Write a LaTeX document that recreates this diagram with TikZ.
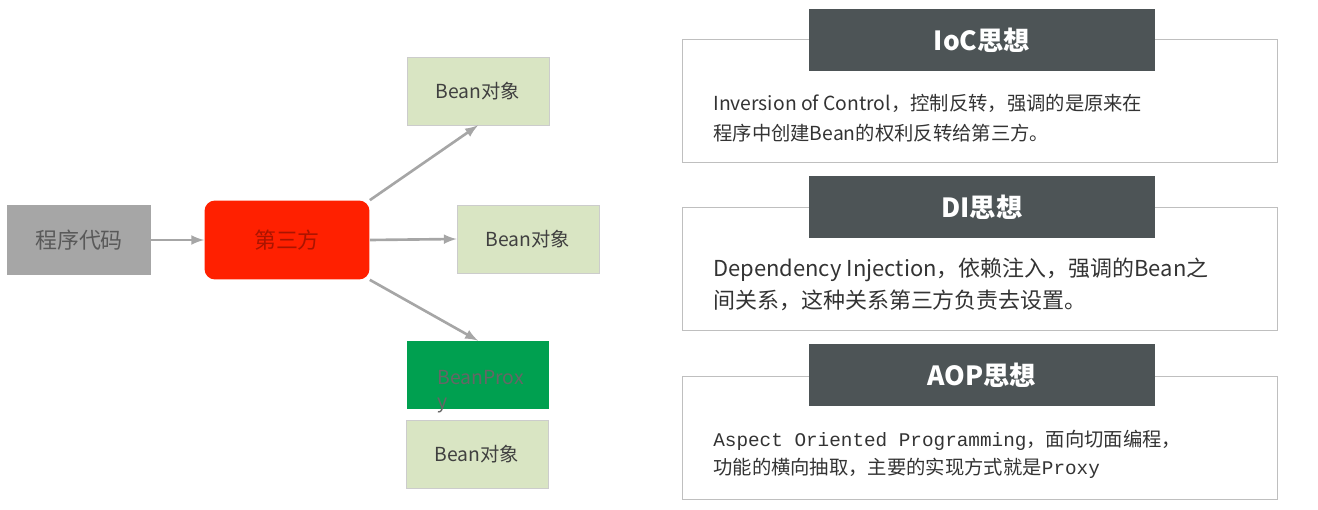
\documentclass[tikz,border=0pt]{standalone}
\usepackage{fontspec}
\setmainfont{Noto Sans CJK SC}
\newfontfamily\cjk{Noto Sans CJK SC}
\newfontfamily\monofnt{Liberation Mono}
\usetikzlibrary{positioning}
\definecolor{beanfill}{HTML}{D9E5C3}
\definecolor{headfill}{HTML}{4D5456}
\definecolor{proxyfill}{HTML}{00A050}
\definecolor{arrowgray}{HTML}{A6A6A6}
\tikzset{
  bean/.style={draw=gray!40,fill=beanfill,minimum width=2.84cm,minimum height=1.36cm,
    font=\fontsize{11}{13}\selectfont,text=black!75},
  header/.style={fill=headfill,minimum width=6.94cm,minimum height=1.26cm,
    font=\fontsize{15}{18}\bfseries\selectfont,text=white},
  panel/.style={draw=gray!50,minimum width=11.9cm,minimum height=2.46cm},
  flow/.style={draw=arrowgray,line width=1.5pt,-latex},
  desc/.style={anchor=west,text=black!80,inner sep=0pt}
}
\begin{document}
\begin{tikzpicture}[x=0.02cm,y=-0.02cm]
    \useasboundingbox (0,0) rectangle (1318,510);
    % left part
    \node[fill=arrowgray,minimum width=2.88cm,minimum height=1.4cm,
      font=\fontsize{12.5}{15}\selectfont,text=black!65] (code) at (79,240) {程序代码};
    \node[fill={rgb,255:red,255;green,32;blue,0},rounded corners=6pt,minimum width=3.3cm,
      minimum height=1.58cm,font=\fontsize{12.5}{15}\selectfont,text={rgb,255:red,170;green,20;blue,0}]
      (third) at (287,240) {第三方};
    \node[bean] (beanA) at (478,91) {Bean对象};
    \node[bean] (beanB) at (528,239) {Bean对象};
    \node[fill=proxyfill,minimum width=2.84cm,minimum height=1.36cm] (proxy) at (478,375) {};
    \node[bean] (beanC) at (477,454) {Bean对象};
    \node[anchor=north west,inner sep=0pt,align=left,text=black!60,
      font=\fontsize{11}{13.5}\selectfont] at (437,370) {BeanProx\\y};
    \draw[flow] (code) -- (third);
    \draw[flow] (third.north east) -- (beanA.south);
    \draw[flow] (third.east) -- (beanB.west);
    \draw[flow] (third.south east) -- (proxy.north);
    % right part
    \node[panel] (pIoC) at (980,101) {};
    \node[header] (hIoC) at (982,40) {IoC思想};
    \node[desc,font=\fontsize{11}{14}\selectfont] at (713,103) {Inversion of Control，控制反转，强调的是原来在};
    \node[desc,font=\fontsize{11}{14}\selectfont] at (713,133) {程序中创建Bean的权利反转给第三方。};
    \node[panel] (pDI) at (980,269) {};
    \node[header] (hDI) at (982,207) {DI思想};
    \node[desc,font=\fontsize{12.5}{15}\selectfont] at (713,270) {Dependency Injection，依赖注入，强调的Bean之};
    \node[desc,font=\fontsize{12.5}{15}\selectfont] at (713,300) {间关系，这种关系第三方负责去设置。};
    \node[panel] (pAOP) at (980,438) {};
    \node[header] (hAOP) at (982,375) {AOP思想};
    \node[desc,font=\fontsize{11}{14}\selectfont] at (713,440) {{\monofnt Aspect Oriented Programming}，面向切面编程，};
    \node[desc,font=\fontsize{11}{14}\selectfont] at (713,468) {功能的横向抽取，主要的实现方式就是{\monofnt Proxy}};
\end{tikzpicture}
\end{document}
